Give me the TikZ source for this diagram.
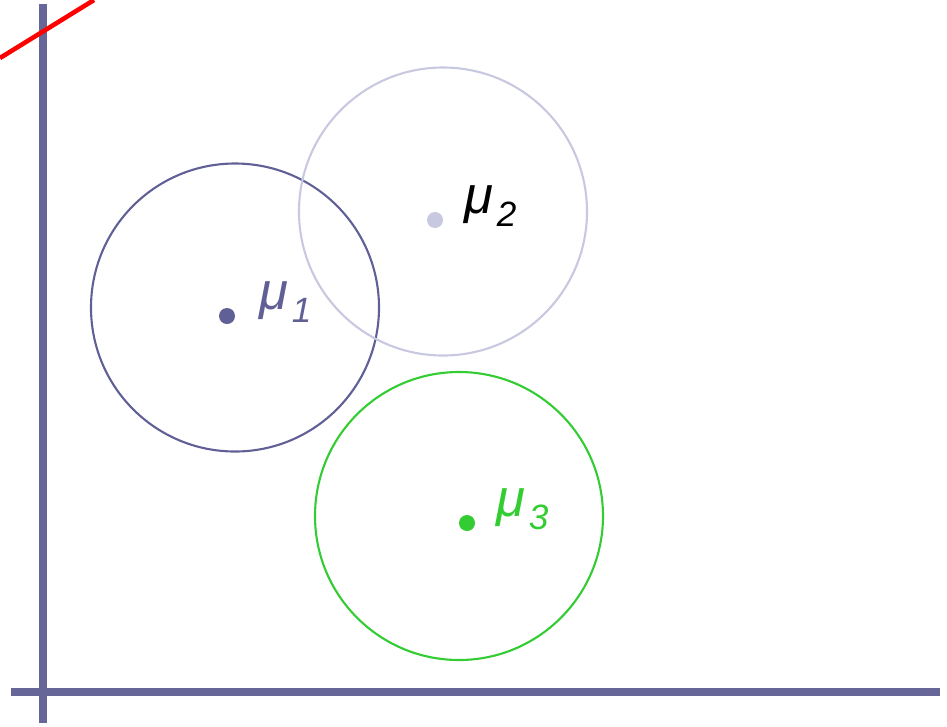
\documentclass[tikz,border=0pt]{standalone}
\usepackage{fontspec}
\setmainfont{Liberation Sans}
\usepackage{tikz}
\usetikzlibrary{positioning,calc}
\usepackage{xcolor}
\definecolor{axisblue}{RGB}{102,102,153}
\definecolor{clusterone}{RGB}{96,96,150}
\definecolor{clustertwo}{RGB}{200,200,225}
\definecolor{clusterthree}{RGB}{51,204,51}

\newcommand{\mulabel}[1]{{\fontsize{15}{17}\selectfont\itshape μ\kern1pt\raisebox{-0.13cm}{\fontsize{10}{11}\selectfont #1}}}

\begin{document}
\begin{tikzpicture}[
    axis/.style={draw=axisblue, line width=2.3pt},
    cluster/.style={circle, draw, line width=0.6pt, minimum size=2.88cm, inner sep=0pt},
    centre/.style={circle, inner sep=0pt, minimum size=0.16cm},
    lbl/.style={inner sep=0pt, yshift=0.14cm}
]
    \useasboundingbox (0,0) rectangle (9.47,7.26);

    % Axes
    \draw[axis] (0.43,7.22) -- (0.43,0.03);
    \draw[axis] (0.11,0.34) -- (9.40,0.34);

    % Separating line
    \draw[red, line width=1.3pt] (0,6.68) -- (0.94,7.26);

    % Cluster 1
    \node[cluster, draw=clusterone] (c1) at (2.35,4.185) {};
    \node[centre, fill=clusterone] (m1) at (2.27,4.10) {};
    \node[lbl, right=0.23cm of m1, text=clusterone] (l1) {\mulabel{1}};

    % Cluster 2
    \node[cluster, draw=clustertwo] (c2) at (4.43,5.145) {};
    \node[centre, fill=clustertwo] (m2) at (4.35,5.06) {};
    \node[lbl, right=0.2cm of m2, text=black] (l2) {\mulabel{2}};

    % Cluster 3
    \node[cluster, draw=clusterthree] (c3) at (4.59,2.10) {};
    \node[centre, fill=clusterthree] (m3) at (4.67,2.03) {};
    \node[lbl, right=0.2cm of m3, text=clusterthree] (l3) {\mulabel{3}};
\end{tikzpicture}
\end{document}
